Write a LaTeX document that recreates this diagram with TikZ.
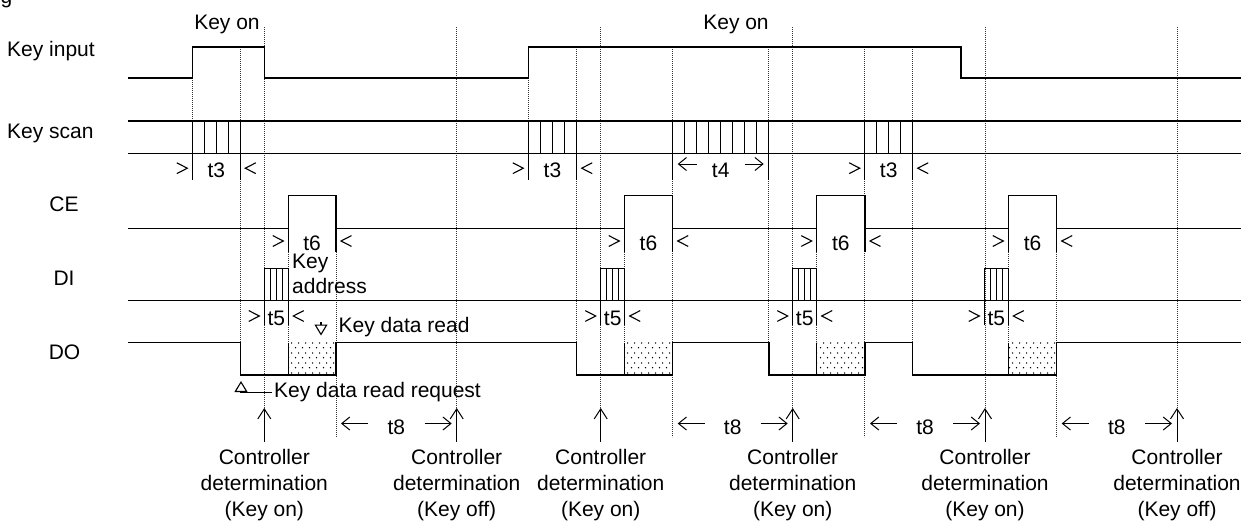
\documentclass[tikz,border=0pt]{standalone}
\usepackage{fontspec}
\setmainfont{Liberation Sans}
\usetikzlibrary{arrows.meta,patterns.meta}
\tikzdeclarepattern{
  name=kdots,
  type=uncolored,
  bottom left={(0pt,0pt)},
  top right={(7pt,10pt)},
  tile size={(7pt,10pt)},
  code={
    \fill (1.75pt,2.5pt) circle (0.85pt);
    \fill (5.25pt,7.5pt) circle (0.85pt);
  }
}
% name, x1, x2, baseline, label
\newcommand\tspan[5]{%
  \coordinate (#1l) at (#2-5,#4-9);
  \coordinate (#1r) at (#3+5,#4-9);
  \draw[chev] (#1l) ++(-10.5,-5.4) -- (#1l) -- ++(-10.5,5.4);
  \draw[chev] (#1r) ++(10.5,-5.4) -- (#1r) -- ++(10.5,5.4);
  \node[lbl] (#1) at ({(#2+#3)/2},#4) {#5};
}
% name, x1, x2, arrow y, baseline, label, arrow length
\newcommand\aspan[7]{%
  \coordinate (#1la) at (#2+5,#4);
  \coordinate (#1lb) at (#2+5+#7,#4);
  \coordinate (#1ra) at (#3-5-#7,#4);
  \coordinate (#1rb) at (#3-5,#4);
  \draw[barb] (#1lb) -- (#1la);
  \draw[barb] (#1ra) -- (#1rb);
  \node[lbl] (#1) at ({(#2+#3)/2},#5) {#6};
}
% name, x, last line
\newcommand\ctrl[3]{%
  \coordinate (#1s) at (#2,442);
  \coordinate (#1t) at (#2,408);
  \draw[uparrow] (#1s) -- (#1t);
  \node[lbl] (#1a) at (#2,464) {Controller};
  \node[lbl] (#1b) at (#2,490.3) {determination};
  \node[lbl] (#1c) at (#2,516.6) {#3};
}
\begin{document}
\begin{tikzpicture}[x=1pt,y=-1pt,
  sig/.style={line width=1.3pt},
  thinsig/.style={line width=1pt},
  chev/.style={line width=1.1pt,line join=miter},
  guide/.style={line width=0.8pt,dash pattern=on 0.8pt off 1.2pt,black!80},
  lbl/.style={font=\fontsize{21}{25}\selectfont,inner sep=0pt,anchor=base},
  lblw/.style={lbl,anchor=base west},
  barb/.style={line width=1pt,-{Straight Barb[length=8pt,width=13pt,line width=1pt]}},
  uparrow/.style={line width=1pt,-{Straight Barb[length=10pt,width=13pt,line width=1pt]}},
  openhead/.style={line width=1.1pt,-{Triangle[open,length=11pt,width=13pt,line width=1.1pt]}},
  shade/.style={pattern={kdots},pattern color=black}
]
\useasboundingbox (0,0) rectangle (1243,520);

% cropped caption fragment
\node[lblw] (fig) at (0.5,3.5) {g};

% dotted guide lines
\foreach \x/\a/\b in {192.3/78/121, 240.5/47/343, 264.3/27/408, 336/252/437,
  456.7/27/408, 528.3/78/121, 576.7/47/343, 600.7/27/408, 672.7/47/437,
  768.7/47/343, 792.7/27/408, 864.7/47/437, 912.7/47/343, 985/27/408,
  1056.7/252/437, 1177/27/408}
  \draw[guide] (\x,\a) -- (\x,\b);
\foreach \x in {288.3,624.3,816.7,1008.3}{
  \draw[guide] (\x,252) -- (\x,268.3);
  \draw[guide] (\x,325) -- (\x,342.7);
}

% row labels
\node[lblw] (lki) at (7,56.7) {Key input};
\node[lblw] (lks) at (7,138) {Key scan};
\node[lbl] (lce) at (64,211.7) {CE};
\node[lbl] (ldi) at (64,285.7) {DI};
\node[lbl] (ldo) at (64.5,359.3) {DO};

% Key input
\draw[sig] (128,78) -- (192.3,78) -- (192.3,47) -- (264.3,47) -- (264.3,78)
  -- (528.3,78) -- (528.3,47) -- (961,47) -- (961,78) -- (1240.7,78);
\node[lbl] (kon1) at (227,29.5) {Key on};
\node[lbl] (kon2) at (736,29.5) {Key on};

% Key scan
\draw[sig] (128,121) -- (1240.7,121);
\draw[sig] (128,153.3) -- (1240.7,153.3);
\foreach \s/\n in {192.3/4,528.3/4,672.7/8,864.7/4}{
  \draw[sig] (\s,121) -- (\s,180);
  \draw[sig] ({\s+12*\n},121) -- ({\s+12*\n},180);
  \pgfmathtruncatemacro\m{\n-1}
  \foreach \k in {1,...,\m}
    \draw[sig] ({\s+12*\k},121) -- ({\s+12*\k},153.3);
}
\tspan{tA}{192.3}{240.3}{177.2}{t3}
\tspan{tB}{528.3}{576.7}{177.2}{t3}
\tspan{tC}{864.7}{912.7}{177.2}{t3}
\aspan{tD}{672.7}{768.7}{164}{177.2}{t4}{19}

% CE
\draw[sig] (128,228.3) -- (288.3,228.3) -- (288.3,195.7) -- (336,195.7) -- (336,228.3)
  -- (624.3,228.3) -- (624.3,195.7) -- (672.7,195.7) -- (672.7,228.3)
  -- (816.7,228.3) -- (816.7,195.7) -- (865,195.7) -- (865,228.3)
  -- (1008.3,228.3) -- (1008.3,195.7) -- (1056.7,195.7) -- (1056.7,228.3)
  -- (1240.7,228.3);
\foreach \x in {288.3,336,624.3,672.7,816.7,865,1008.3,1056.7}
  \draw[sig] (\x,228.3) -- (\x,252);
\tspan{sA}{288.3}{336}{250}{t6}
\tspan{sB}{624.3}{672.7}{250}{t6}
\tspan{sC}{816.7}{865}{250}{t6}
\tspan{sD}{1008.3}{1056.7}{250}{t6}

% DI
\draw[sig] (128,300.7) -- (1240.7,300.7);
\foreach \s in {264.3,600.7,792.7,984.3}{
  \draw[sig] (\s,325) -- (\s,268.3) -- (\s+24,268.3) -- (\s+24,325);
  \foreach \k in {6,12,18}
    \draw[thinsig] (\s+\k,268.3) -- (\s+\k,300.7);
}
\tspan{uA}{264.3}{288.3}{325}{t5}
\tspan{uB}{600.7}{624.7}{325}{t5}
\tspan{uC}{792.7}{816.7}{325}{t5}
\tspan{uD}{984.3}{1008.3}{325}{t5}
\node[lblw] (ka1) at (292,268) {Key};
\node[lblw] (ka2) at (292,293.3) {address};

% DO
\foreach \a/\b in {288.3/336,624.3/672.7,816.7/865,1008.3/1056.7}
  \fill[shade] (\a,342.7) rectangle (\b,375);
\draw[sig] (128,342.7) -- (240.5,342.7) -- (240.5,375) -- (336,375) -- (336,342.7)
  -- (576.7,342.7) -- (576.7,375) -- (672.7,375) -- (672.7,342.7)
  -- (769,342.7) -- (769,375) -- (865,375) -- (865,342.7)
  -- (912.7,342.7) -- (912.7,375) -- (1056.7,375) -- (1056.7,342.7)
  -- (1240.7,342.7);
\foreach \x in {288.3,624.3,816.7,1008.3}
  \draw[sig] (\x,342.7) -- (\x,375);

% Key data read
\coordinate (kdr0) at (321,322);
\coordinate (kdr1) at (321,335.5);
\draw[openhead] (kdr0) -- (kdr1);
\node[lblw] (kdr) at (338.5,332) {Key data read};

% Key data read request
\coordinate (kq0) at (272,392.5);
\coordinate (kq1) at (241,392.5);
\coordinate (kq2) at (241,381);
\draw[thinsig] (kq0) -- (kq1);
\draw[openhead] (kq1) -- (kq2);
\node[lblw] (kq) at (274,397.3) {Key data read request};

% t8 spans
\aspan{eA}{336}{456.7}{423.5}{434}{t8}{27}
\aspan{eB}{672.7}{792.7}{423.5}{434}{t8}{27}
\aspan{eC}{865}{985}{423.5}{434}{t8}{27}
\aspan{eD}{1056.7}{1177}{423.5}{434}{t8}{27}

% controller determination
\ctrl{cA}{264.3}{(Key on)}
\ctrl{cB}{456.7}{(Key off)}
\ctrl{cC}{600.7}{(Key on)}
\ctrl{cD}{792.7}{(Key on)}
\ctrl{cE}{985}{(Key on)}
\ctrl{cF}{1177}{(Key off)}
\end{tikzpicture}
\end{document}
